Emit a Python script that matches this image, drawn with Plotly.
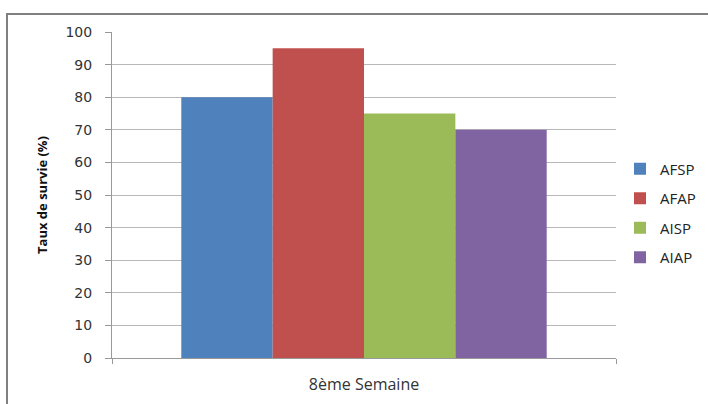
import plotly.graph_objects as go

categories = ["8ème Semaine"]
series_names = ["AFSP", "AFAP", "AISP", "AIAP"]
series_values = [[80], [95], [75], [70]]
colors = ["#4F81BD", "#C0504D", "#9BBB59", "#8064A2"]
y_ticks = [0, 10, 20, 30, 40, 50, 60, 70, 80, 90, 100]

W, H = 708, 404
L, R, T, B = 112, 92, 32, 46
pw, ph = W - L - R, H - T - B

fig = go.Figure()
for name, vals, col in zip(series_names, series_values, colors):
    fig.add_trace(go.Bar(x=categories, y=vals, name=name, marker_color=col,
                         marker_line_width=0, legendgroup=name))

def px_x(p):
    return (p - L) / pw

def px_y(p):
    return (H - B - p) / ph

fig.update_layout(
    width=W, height=H,
    margin=dict(l=L, r=R, t=T, b=B, autoexpand=False),
    paper_bgcolor="white", plot_bgcolor="white",
    barmode="group", bargap=0.275, bargroupgap=0,
    font=dict(family="Open Sans", color="#222222"),
    showlegend=True,
    legend=dict(x=px_x(620), y=px_y(213), xanchor="left", yanchor="middle",
                font=dict(family="Open Sans", size=15, color="#222222"),
                tracegroupgap=7, itemwidth=30, bgcolor="rgba(0,0,0,0)"),
    xaxis=dict(type="category", tickson="boundaries", ticks="outside", ticklen=5,
               tickcolor="#999999", showline=True, linecolor="#999999", linewidth=1,
               showgrid=False, tickfont=dict(family="Open Sans", size=16, color="#333333"),
               ticklabelstandoff=12,
               range=[-0.5, 0.5], automargin=False),
    yaxis=dict(range=[0, 100], tickvals=y_ticks, ticks="outside", ticklen=6,
               tickcolor="#999999", showline=True, linecolor="#999999", linewidth=1,
               gridcolor="#b8b8b8", gridwidth=1, zeroline=False, automargin=False,
               tickfont=dict(family="DejaVu Sans", size=14, color="#333333"),
               ticklabelstandoff=10,
               title=dict(text="<b>Taux de survie (%)</b>", standoff=14,
                          font=dict(family="Open Sans", size=13, color="#111111"))),
    shapes=[dict(type="rect", xref="paper", yref="paper",
                 x0=px_x(7), x1=px_x(720), y0=px_y(420), y1=px_y(14),
                 line=dict(color="#808080", width=2), fillcolor="rgba(0,0,0,0)", layer="below")],
)

fig.write_html("out.html", config={"displayModeBar": False},
               post_script="document.body.style.margin='0';document.body.style.overflow='hidden';")
